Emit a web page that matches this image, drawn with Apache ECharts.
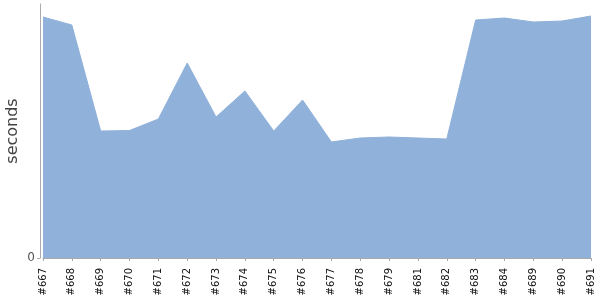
<!DOCTYPE html>
<html><head><meta charset="utf-8">
<script src="https://cdn.jsdelivr.net/npm/echarts@6/dist/echarts.min.js"></script>
<style>html,body{margin:0;padding:0;background:#fff}#c{width:600px;height:300px}</style>
</head><body><div id="c"></div>
<script>
const categories = ['#667','#668','#669','#670','#671','#672','#673','#674','#675','#676','#677','#678','#679','#681','#682','#683','#684','#689','#690','#691'];
const seconds = [241,233,127,127.5,139,195,141,167,127,158,116,120,121,120,119,238,240,236,237,242];
const yMax = 254;
const yTicks = [0];

const chart = echarts.init(document.getElementById('c'), null, {renderer:'canvas'});
chart.setOption({
  animation:false,
  backgroundColor:'#fff',
  grid:{left:43,right:9,top:4,bottom:42,containLabel:false,outerBoundsMode:'none'},
  xAxis:{
    type:'category', data:categories, boundaryGap:false, offset:4,
    axisLine:{lineStyle:{color:'#aaa'}},
    axisTick:{alignWithLabel:true,length:3,lineStyle:{color:'#aaa'}},
    axisLabel:{rotate:90,fontSize:10,color:'#111',fontFamily:'DejaVu Sans',margin:6,interval:0}
  },
  yAxis:{
    type:'value', min:0, max:yMax, offset:3,
    name:'seconds', nameLocation:'middle', nameGap:19, nameRotate:90, nameMoveOverlap:false,
    nameTextStyle:{fontSize:16,color:'#444',fontFamily:'DejaVu Sans'},
    axisLine:{show:true,lineStyle:{color:'#aaa'}},
    axisTick:{show:true,length:3,customValues:yTicks,lineStyle:{color:'#aaa'}},
    axisLabel:{customValues:yTicks,fontSize:12,color:'#555',fontFamily:'DejaVu Sans',margin:5},
    splitLine:{show:false}
  },
  series:[{
    type:'line', data:seconds, symbol:'none',
    lineStyle:{width:1,color:'#8fb1da'},
    itemStyle:{color:'#8fb1da'},
    areaStyle:{color:'#8fb1da',opacity:1}
  }]
});
</script></body></html>
